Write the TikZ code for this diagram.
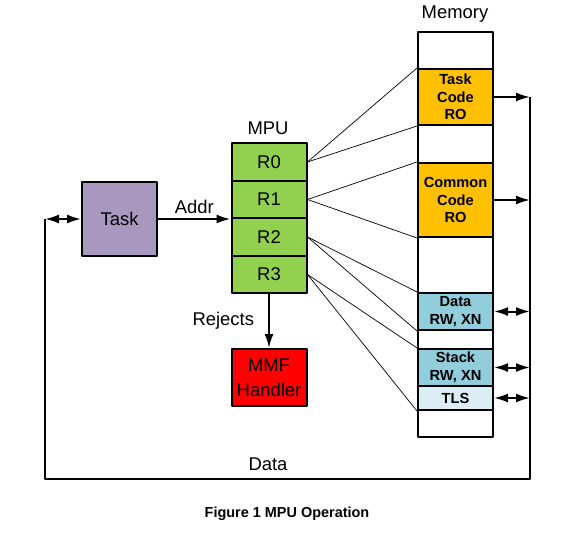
\documentclass[tikz,border=0pt]{standalone}
\usepackage{fontspec}
\setmainfont{Liberation Sans}
\usetikzlibrary{arrows.meta,positioning}

\definecolor{taskcol}{RGB}{168,152,192}
\definecolor{mpucol}{RGB}{146,208,80}
\definecolor{codecol}{RGB}{255,192,0}
\definecolor{datacol}{RGB}{146,205,220}
\definecolor{tlscol}{RGB}{218,238,243}
\definecolor{mmfcol}{RGB}{255,0,0}

\tikzset{
  blk/.style={draw,line width=2bp,minimum width=75bp,inner sep=0pt,align=center,
    font=\fontsize{18.5}{25}\selectfont},
  seg/.style={draw,line width=2bp,minimum width=75bp,inner sep=0pt,align=center,
    font=\bfseries\fontsize{14.7}{17.5}\selectfont},
  lbl/.style={inner sep=0pt,font=\fontsize{18.5}{22}\selectfont},
  lnk/.style={line width=0.7bp},
  bus/.style={line width=2bp},
}

\begin{document}
\begin{tikzpicture}[x=1bp,y=-1bp,>={Latex[length=14bp,width=9bp]},line join=bevel]
\useasboundingbox (0,0) rectangle (573,533);
% task and mpu
\node[blk,fill=taskcol,minimum height=74bp] (task) at (119.5,219) {Task};
\node[blk,fill=mpucol,minimum height=37.5bp] (r0) at (269,162) {R0};
\node[blk,fill=mpucol,minimum height=37.5bp] (r1) at (269,199.5) {R1};
\node[blk,fill=mpucol,minimum height=37.5bp] (r2) at (269,237) {R2};
\node[blk,fill=mpucol,minimum height=37.5bp] (r3) at (269,274.5) {R3};
\node[blk,fill=mmfcol,minimum height=57bp] (mmf) at (269,377.5) {MMF\\Handler};
\node[lbl] (mpulbl) at (268,128) {MPU};
% memory
\node[seg,minimum height=37bp] (m0) at (455.5,50.5) {};
\node[seg,fill=codecol,minimum height=56bp] (tc) at (455.5,97) {Task\\Code\\RO};
\node[seg,minimum height=38bp] (m1) at (455.5,144) {};
\node[seg,fill=codecol,minimum height=74bp] (cc) at (455.5,200) {Common\\Code\\RO};
\node[seg,minimum height=56bp] (m2) at (455.5,265) {};
\node[seg,fill=datacol,minimum height=37bp] (dat) at (455.5,311.5) {Data\\RW, XN};
\node[seg,minimum height=19bp] (m3) at (455.5,339.5) {};
\node[seg,fill=datacol,minimum height=37bp] (stk) at (455.5,367.5) {Stack\\RW, XN};
\node[seg,fill=tlscol,minimum height=24bp] (tls) at (455.5,398) {TLS};
\node[seg,minimum height=27bp] (m4) at (455.5,423.5) {};
\node[lbl] (memlbl) at (455,14) {Memory};
% region links
\draw[lnk] (r0.east) -- (tc.north west);
\draw[lnk] (r0.east) -- (tc.south west);
\draw[lnk] (r1.east) -- (cc.north west);
\draw[lnk] (r1.east) -- (cc.south west);
\draw[lnk] (r2.east) -- (dat.north west);
\draw[lnk] (r2.east) -- (dat.south west);
\draw[lnk] (r3.east) -- (stk.north west);
\draw[lnk] (r3.east) -- (tls.south west);
% address and rejects
\draw[bus,->] (task.east) -- (task.east -| r2.west) node[midway,above=4bp,lbl] (addr) {Addr};
\draw[bus,->] (r3.south) -- (mmf.north) node[midway,left=14bp,lbl] (rej) {Rejects};
% data bus
\coordinate (bt) at (530,97);
\coordinate (bb) at (530,479);
\coordinate (bl) at (45,479);
\coordinate (tl) at (45,219);
\draw[bus] (bt) -- (bb) -- (bl) -- (tl);
\draw[bus,->] (tc.east) -- (tc.east -| bt);
\draw[bus,->] (cc.east) -- (cc.east -| bt);
\draw[bus,<->] (dat.east) -- (dat.east -| bt);
\draw[bus,<->] (stk.east) -- (stk.east -| bt);
\draw[bus,<->] (tls.east) -- (tls.east -| bt);
\draw[bus,<->] (tl) -- (task.west);
\node[lbl] (datalbl) at (268,464) {Data};
% caption
\node[inner sep=0pt,font=\bfseries\fontsize{14.5}{17}\selectfont] (cap) at (287,514) {Figure 1 MPU Operation};
\end{tikzpicture}
\end{document}
